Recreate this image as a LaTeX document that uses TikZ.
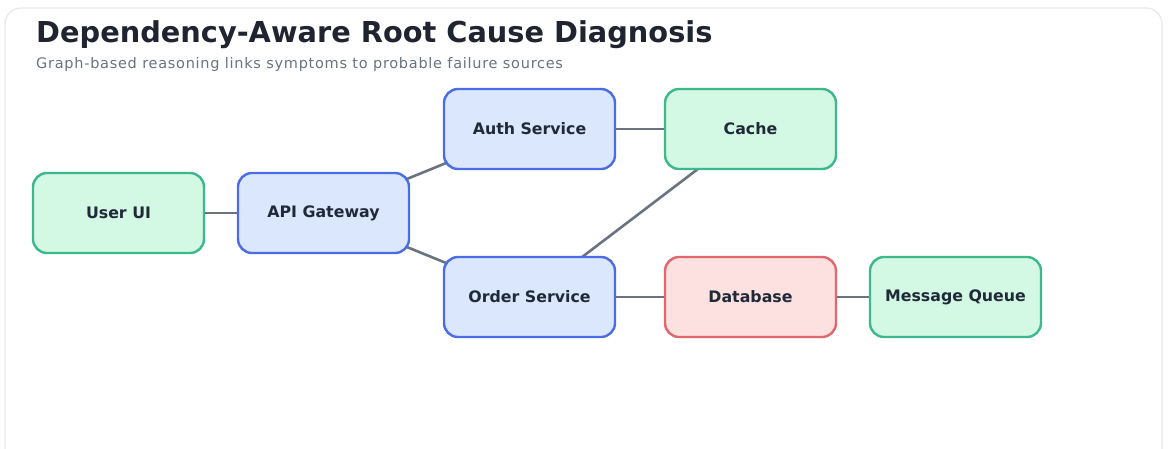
\documentclass[tikz,border=0pt]{standalone}
\usepackage{fontspec}
\setmainfont{DejaVu Sans}
\newfontfamily\subfont[LetterSpace=5]{DejaVu Sans}
\usetikzlibrary{backgrounds}
\definecolor{edgegray}{HTML}{6B7280}
\definecolor{titleink}{HTML}{1F2430}
\definecolor{subink}{HTML}{6B7280}
\definecolor{nodeink}{HTML}{1F2937}
\definecolor{bluefill}{HTML}{DBE7FC}
\definecolor{blueline}{HTML}{4A6CE6}
\definecolor{greenfill}{HTML}{D3F8E4}
\definecolor{greenline}{HTML}{3DB88C}
\definecolor{redfill}{HTML}{FDE0E0}
\definecolor{redline}{HTML}{E2676A}
\definecolor{cardline}{HTML}{E6E8EC}
\tikzset{
  x=1pt, y=-1pt,
  svc/.style={rounded corners=14pt, line width=2.4pt, minimum width=171pt,
    minimum height=80pt, inner sep=0pt, text=nodeink,
    font=\fontsize{15.8}{18}\selectfont\bfseries},
  core/.style={svc, draw=blueline, fill=bluefill},
  edgesvc/.style={svc, draw=greenline, fill=greenfill},
  fault/.style={svc, draw=redline, fill=redfill},
  link/.style={draw=edgegray, line width=2.6pt},
}
\begin{document}
\begin{tikzpicture}
\useasboundingbox (0,0) rectangle (1169,448);
% heading
\node[anchor=base west, inner sep=0pt, text=titleink,
  font=\fontsize{28.8}{32}\selectfont\bfseries] (title) at (36,42) {Dependency-Aware Root Cause Diagnosis};
\node[anchor=base west, inner sep=0pt, text=subink,
  font=\subfont\fontsize{14.5}{17}\selectfont] (subtitle) at (36,68) {Graph-based reasoning links symptoms to probable failure sources};
% services
\node[edgesvc] (ui) at (118.5,213) {User UI};
\node[core] (gw) at (323.5,213) {API Gateway};
\node[core] (auth) at (529.5,129) {Auth Service};
\node[edgesvc] (cache) at (750.5,129) {Cache};
\node[core] (order) at (529.5,297) {Order Service};
\node[fault] (db) at (750.5,297) {Database};
\node[edgesvc] (mq) at (955.5,297) {Message Queue};
% card and dependencies, behind the services
\begin{scope}[on background layer]
\fill[white] (0,0) rectangle (1169,448);
\draw[cardline, line width=1.2pt, fill=white, rounded corners=16pt] (5,8) rectangle (1162,470);
\draw[link] (ui.center) -- (gw.center);
\draw[link] (gw.center) -- (auth.center);
\draw[link] (gw.center) -- (order.center);
\draw[link] (auth.center) -- (cache.center);
\draw[link] (cache.center) -- (order.center);
\draw[link] (order.center) -- (db.center);
\draw[link] (db.center) -- (mq.center);
\end{scope}
\end{tikzpicture}
\end{document}
